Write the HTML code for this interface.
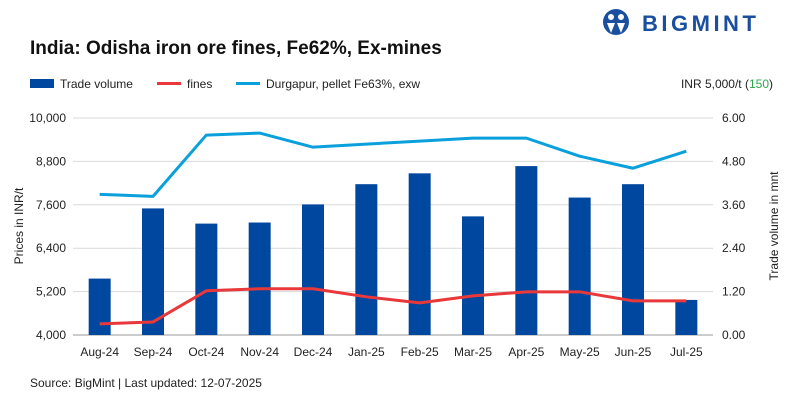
<!DOCTYPE html>
<html><head><meta charset="utf-8"><style>
body{margin:0;background:#fff;font-family:"Liberation Sans",sans-serif;}
#c{position:relative;width:799px;height:400px;overflow:hidden;}
</style></head><body>
<div id="c">
<svg id="s" width="799" height="400" xmlns="http://www.w3.org/2000/svg" font-family="Liberation Sans, sans-serif">
<g>
<circle cx="616" cy="22" r="13" fill="#1a4fa0"/>
<circle cx="611" cy="17" r="3" fill="#fff"/><circle cx="621" cy="17" r="3" fill="#fff"/>
<path d="M607 23 L611 33 L615 23 Z M617 23 L621 33 L625 23 Z" fill="#fff"/>
<text x="642" y="31" font-size="22" font-weight="bold" fill="#1a4fa0" letter-spacing="3.5">BIGMINT</text>
</g>
<text x="30" y="54" font-size="19" font-weight="bold" fill="#111">India: Odisha iron ore fines, Fe62%, Ex-mines</text>
<g font-size="12" fill="#222">
<rect x="30" y="79" width="24" height="9" fill="#0047a0"/>
<text x="60" y="88">Trade volume</text>
<rect x="157" y="82" width="24" height="3" fill="#e8383a"/>
<text x="187" y="88">fines</text>
<rect x="236" y="82" width="24" height="3" fill="#0aa0dc"/>
<text x="266" y="88">Durgapur, pellet Fe63%, exw</text>
</g>
<text x="773" y="88" font-size="12" text-anchor="end" fill="#222">INR 5,000/t (<tspan fill="#2aa84a">150</tspan>)</text>
<g id="grid"></g><g id="bars"></g><g id="lines"></g><g id="axes" font-size="12" fill="#222"></g>
<text transform="translate(23,226) rotate(-90)" font-size="12" text-anchor="middle" fill="#222">Prices in INR/t</text>
<text transform="translate(778,226) rotate(-90)" font-size="12" text-anchor="middle" fill="#222">Trade volume in mnt</text>
<text x="30" y="387" font-size="12" fill="#222">Source: BigMint | Last updated: 12-07-2025</text>
</svg>
</div>
<script>
const categories=["Aug-24","Sep-24","Oct-24","Nov-24","Dec-24","Jan-25","Feb-25","Mar-25","Apr-25","May-25","Jun-25","Jul-25"];
const tradeVolume=[1.56,3.5,3.08,3.11,3.61,4.17,4.47,3.28,4.67,3.8,4.17,0.97];
const fines=[4306,4361,5222,5278,5278,5056,4889,5083,5194,5194,4944,4944];
const durgapur=[7889,7833,9528,9583,9194,9278,9361,9444,9444,8944,8611,9083];
const leftTicks=[4000,5200,6400,7600,8800,10000];
const rightTicks=["0.00","1.20","2.40","3.60","4.80","6.00"];
const NS="http://www.w3.org/2000/svg";
const X0=73,X1=713,Y0=335,Y1=118;
const step=(X1-X0)/categories.length;
const xc=i=>X0+step*(i+0.5);
const yL=v=>Y0-(v-4000)/6000*(Y0-Y1);
const yR=v=>Y0-v/6*(Y0-Y1);
function mk(t,a,p){const e=document.createElementNS(NS,t);for(const k in a)e.setAttribute(k,a[k]);p.appendChild(e);return e;}
const g=document.getElementById('grid'),b=document.getElementById('bars'),l=document.getElementById('lines'),ax=document.getElementById('axes');
leftTicks.forEach((v,i)=>{
 const y=yL(v);
 const ln=mk('line',{x1:X0,x2:X1,y1:y,y2:y,stroke:i==0?'#999':'#d9d9d9','stroke-width':1},g);
 
 
 const t=mk('text',{x:66,y:y+4,'text-anchor':'end'},ax);t.textContent=v.toLocaleString('en-US');
 
 
 const t2=mk('text',{x:722,y:y+4},ax);t2.textContent=rightTicks[i];
 
 
});
categories.forEach((c,i)=>{
 const y=yR(tradeVolume[i]);
 const r=mk('rect',{x:xc(i)-11,y:y,width:22,height:Y0-y,fill:'#0047a0'},b);
 
 
 const t=mk('text',{x:xc(i),y:356,'text-anchor':'middle'},ax);t.textContent=c;
 
 
});
const p1=mk('polyline',{points:durgapur.map((v,i)=>xc(i)+','+yL(v)).join(' '),fill:'none',stroke:'#0aa0dc','stroke-width':3,'stroke-linejoin':'round'},l);


const p2=mk('polyline',{points:fines.map((v,i)=>xc(i)+','+yL(v)).join(' '),fill:'none',stroke:'#e8383a','stroke-width':3,'stroke-linejoin':'round'},l);


</script>
</body></html>
